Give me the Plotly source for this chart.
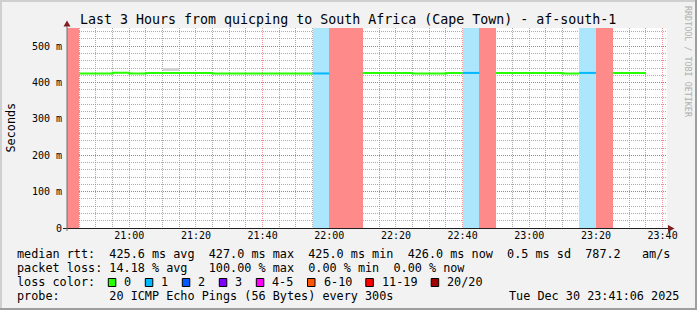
import plotly.graph_objects as go
from datetime import datetime, timedelta

# ---------------- data ----------------
interval_start = ["20:40", "20:45", "20:50", "20:55", "21:00", "21:05", "21:10", "21:15",
                  "21:20", "21:25", "21:30", "21:35", "21:40", "21:45", "21:50", "21:55",
                  "22:00", "22:05", "22:10", "22:15", "22:20", "22:25", "22:30", "22:35",
                  "22:40", "22:45", "22:50", "22:55", "23:00", "23:05", "23:10", "23:15",
                  "23:20", "23:25", "23:30"]
loss_pings = [20, 0, 0, 0, 0, 0, 0, 0, 0, 0, 0, 0, 0, 0, 0, 1,
              20, 20, 0, 0, 0, 0, 0, 0, 1, 20, 0, 0, 0, 0, 0, 1,
              20, 0, 0]
median_ms = [None, 425.0, 425.0, 427.0, 425.0, 426.5, 426.5, 426.5, 426.5, 425.0, 425.0,
             425.0, 425.0, 425.0, 425.0, 425.0, None, None, 426.5, 426.5, 426.5, 425.0,
             425.0, 426.5, 426.5, None, 426.5, 426.5, 426.5, 426.5, 425.0, 426.5, None,
             426.5, 426.0]
smoke_start = ["21:10"]
smoke_lo_ms = [433.0]
smoke_hi_ms = [440.0]
band_top_ms = 550.0

loss_labels = ["0", "1", "2", "3", "4-5", "6-10", "11-19", "20/20"]
loss_upper = [0, 1, 2, 3, 5, 10, 19, 20]
loss_colors = ["#26ff00", "#00b8ff", "#0059ff", "#7e00ff", "#ff00ff", "#ff5500", "#ff0000", "#a10000"]
band_colors = {1: "#abe6fd", 7: "#ff8a8a"}

y_tick_vals = [0, 100, 200, 300, 400, 500]
y_tick_text = ["0", "100 m", "200 m", "300 m", "400 m", "500 m"]

title = "Last 3 Hours from quicping to South Africa (Cape Town) - af-south-1"
rtt_stats = [("avg", 425.6), ("max", 427.0), ("min", 425.0), ("now", 426.0)]
rtt_sd = 0.5
rtt_ams = 787.2
loss_stats = [("avg", 14.18), ("max", 100.00), ("min", 0.00), ("now", 0.00)]
probe_text = "20 ICMP Echo Pings (56 Bytes) every 300s"
stamp_text = "Tue Dec 30 23:41:06 2025"

# ---------------- helpers ----------------
DAY = (2025, 12, 30)
STEP = timedelta(minutes=5)


def ts(hm):
    return datetime(*DAY, int(hm[:2]), int(hm[3:]))


def bucket(n):
    for i, u in enumerate(loss_upper):
        if n <= u:
            return i
    return len(loss_upper) - 1


starts = [ts(s) for s in interval_start]
L, T, W, H = 67, 28, 600, 200
FIG_W, FIG_H = 697, 310


def px(x):
    return (x - L) / W


def py(y):
    return (T + H - y) / H


fig = go.Figure()

# loss background bands
for b, col in band_colors.items():
    xs = [starts[k] + STEP / 2 for k in range(len(starts)) if bucket(loss_pings[k]) == b]
    fig.add_trace(go.Bar(x=xs, y=[band_top_ms] * len(xs), width=[STEP.total_seconds() * 1000] * len(xs),
                         marker=dict(color=col, line=dict(width=0)), hoverinfo="skip"))

# smoke
fig.add_trace(go.Bar(x=[ts(s) + STEP / 2 for s in smoke_start],
                     y=[h - l for l, h in zip(smoke_lo_ms, smoke_hi_ms)], base=smoke_lo_ms,
                     width=[STEP.total_seconds() * 1000] * len(smoke_start),
                     marker=dict(color="#d2d2d2", line=dict(width=0)), hoverinfo="skip"))

# median line coloured by loss
for b, col in enumerate(loss_colors):
    xs, ys = [], []
    n = len(starts)
    for k in range(n):
        ok = median_ms[k] is not None and bucket(loss_pings[k]) == b
        if not ok:
            continue
        xs.append(starts[k]); ys.append(median_ms[k])
        nxt_ok = k + 1 < n and median_ms[k + 1] is not None and bucket(loss_pings[k + 1]) == b
        if not nxt_ok:
            xs.append(starts[k] + STEP); ys.append(median_ms[k])
            xs.append(None); ys.append(None)
    if xs:
        fig.add_trace(go.Scatter(x=xs, y=ys, mode="lines", line=dict(color=col, width=2, shape="hv"),
                                 connectgaps=False, hoverinfo="skip"))

x0 = datetime(*DAY, 20, 41, 19)
x1 = x0 + timedelta(hours=3)

MONO = "DejaVu Sans Mono"
GRID = "rgba(143,143,143,0.75)"
MGRID = "rgba(222,79,79,0.6)"

fig.update_layout(
    width=FIG_W, height=FIG_H,
    margin=dict(l=L, r=FIG_W - L - W, t=T, b=FIG_H - T - H, pad=0),
    paper_bgcolor="#f2f2f2", plot_bgcolor="#ffffff",
    showlegend=False, barmode="overlay", bargap=0,
    font=dict(family=MONO, size=10, color="#000000"),
    xaxis=dict(type="date", range=[x0, x1], tickformat="%H:%M", dtick=20 * 60 * 1000,
               tick0=datetime(*DAY, 21, 0), showgrid=True, gridcolor=MGRID, griddash="1px,1px",
               gridwidth=1, zeroline=False, showline=False, ticks="", fixedrange=True,
               tickfont=dict(family=MONO, size=10),
               minor=dict(dtick=5 * 60 * 1000, tick0=datetime(*DAY, 21, 0), showgrid=True,
                          gridcolor=GRID, griddash="1px,1px", gridwidth=1)),
    yaxis=dict(range=[0, band_top_ms], tickmode="array", tickvals=y_tick_vals, ticktext=y_tick_text,
               showgrid=True, gridcolor=MGRID, griddash="1px,1px", gridwidth=1, zeroline=False,
               showline=False, ticks="", ticklabelstandoff=4, fixedrange=True,
               tickfont=dict(family=MONO, size=10),
               minor=dict(dtick=20, tick0=0, showgrid=True, gridcolor=GRID, griddash="1px,1px",
                          gridwidth=1)),
)

shapes = []


def rect(xa, ya, xb, yb, fill, line=None, lw=0):
    shapes.append(dict(type="rect", xref="paper", yref="paper", x0=px(xa), x1=px(xb), y0=py(ya), y1=py(yb),
                       fillcolor=fill, line=dict(width=lw, color=line or fill), layer="above"))


# frame shading
rect(0, 0, FIG_W, 2, "#cfcfcf")
rect(0, 0, 2, FIG_H, "#cfcfcf")
rect(0, FIG_H - 2, FIG_W, FIG_H, "#9e9e9e")
rect(FIG_W - 2, 0, FIG_W, FIG_H, "#9e9e9e")

# axes
shapes.append(dict(type="line", xref="paper", yref="paper", x0=px(63), x1=px(670), y0=py(228.5), y1=py(228.5),
                   line=dict(color="#1f1f1f", width=1), layer="above"))
shapes.append(dict(type="line", xref="paper", yref="paper", x0=px(67), x1=px(67), y0=py(231), y1=py(25),
                   line=dict(color="#707070", width=1), layer="above"))
shapes.append(dict(type="path", xref="paper", yref="paper", layer="above",
                   path=f"M {px(668)} {py(225)} L {px(674.5)} {py(228.5)} L {px(668)} {py(232)} Z",
                   fillcolor="#801f1f", line=dict(width=0)))
shapes.append(dict(type="path", xref="paper", yref="paper", layer="above",
                   path=f"M {px(63.5)} {py(26.5)} L {px(67)} {py(20.5)} L {px(70.5)} {py(26.5)} Z",
                   fillcolor="#801f1f", line=dict(width=0)))

annotations = []


def text(x, y, s, size=11.8, xanchor="left", color="#000000", angle=0, family=MONO):
    annotations.append(dict(x=px(x), y=py(y), xref="paper", yref="paper", text=s.replace(" ", "\u00a0"),
                            showarrow=False, xanchor=xanchor, yanchor="middle", textangle=angle,
                            borderpad=0, font=dict(family=family, size=size, color=color)))


text(347.5, 19, title, size=13.3, xanchor="center")
text(10, 127.5, "Seconds", size=11.8, xanchor="center", angle=-90)
text(688.5, 61.5, "RRDTOOL / TOBI OETIKER", size=8.4, xanchor="center", angle=90, color="#b0b0b0")

line1 = "median rtt:  " + "  ".join(f"{v:.1f} ms {k}" for k, v in rtt_stats) + f"  {rtt_sd:.1f} ms sd  {rtt_ams:.1f}   am/s"
line2 = "packet loss: " + f"{loss_stats[0][1]:.2f} % {loss_stats[0][0]}   " + "  ".join(
    f"{v:.2f} % {k}" for k, v in loss_stats[1:])
text(16, 254, line1)
text(16, 268.3, line2)
text(16, 282.3, "loss color:")
text(16, 296, "probe:       " + probe_text)
text(680, 296, stamp_text, xanchor="right")

CW = 7.1
bx = 108.3
for lab, col in zip(loss_labels, loss_colors):
    rect(bx, 278.5, bx + 7.5, 286.5, col, line="#000000", lw=1)
    text(bx + 15, 282.3, lab)
    bx = bx + 15 + len(lab) * CW + 14.9

fig.update_layout(shapes=shapes, annotations=annotations)

fig.write_html("out.html", config={"displayModeBar": False, "staticPlot": True})
